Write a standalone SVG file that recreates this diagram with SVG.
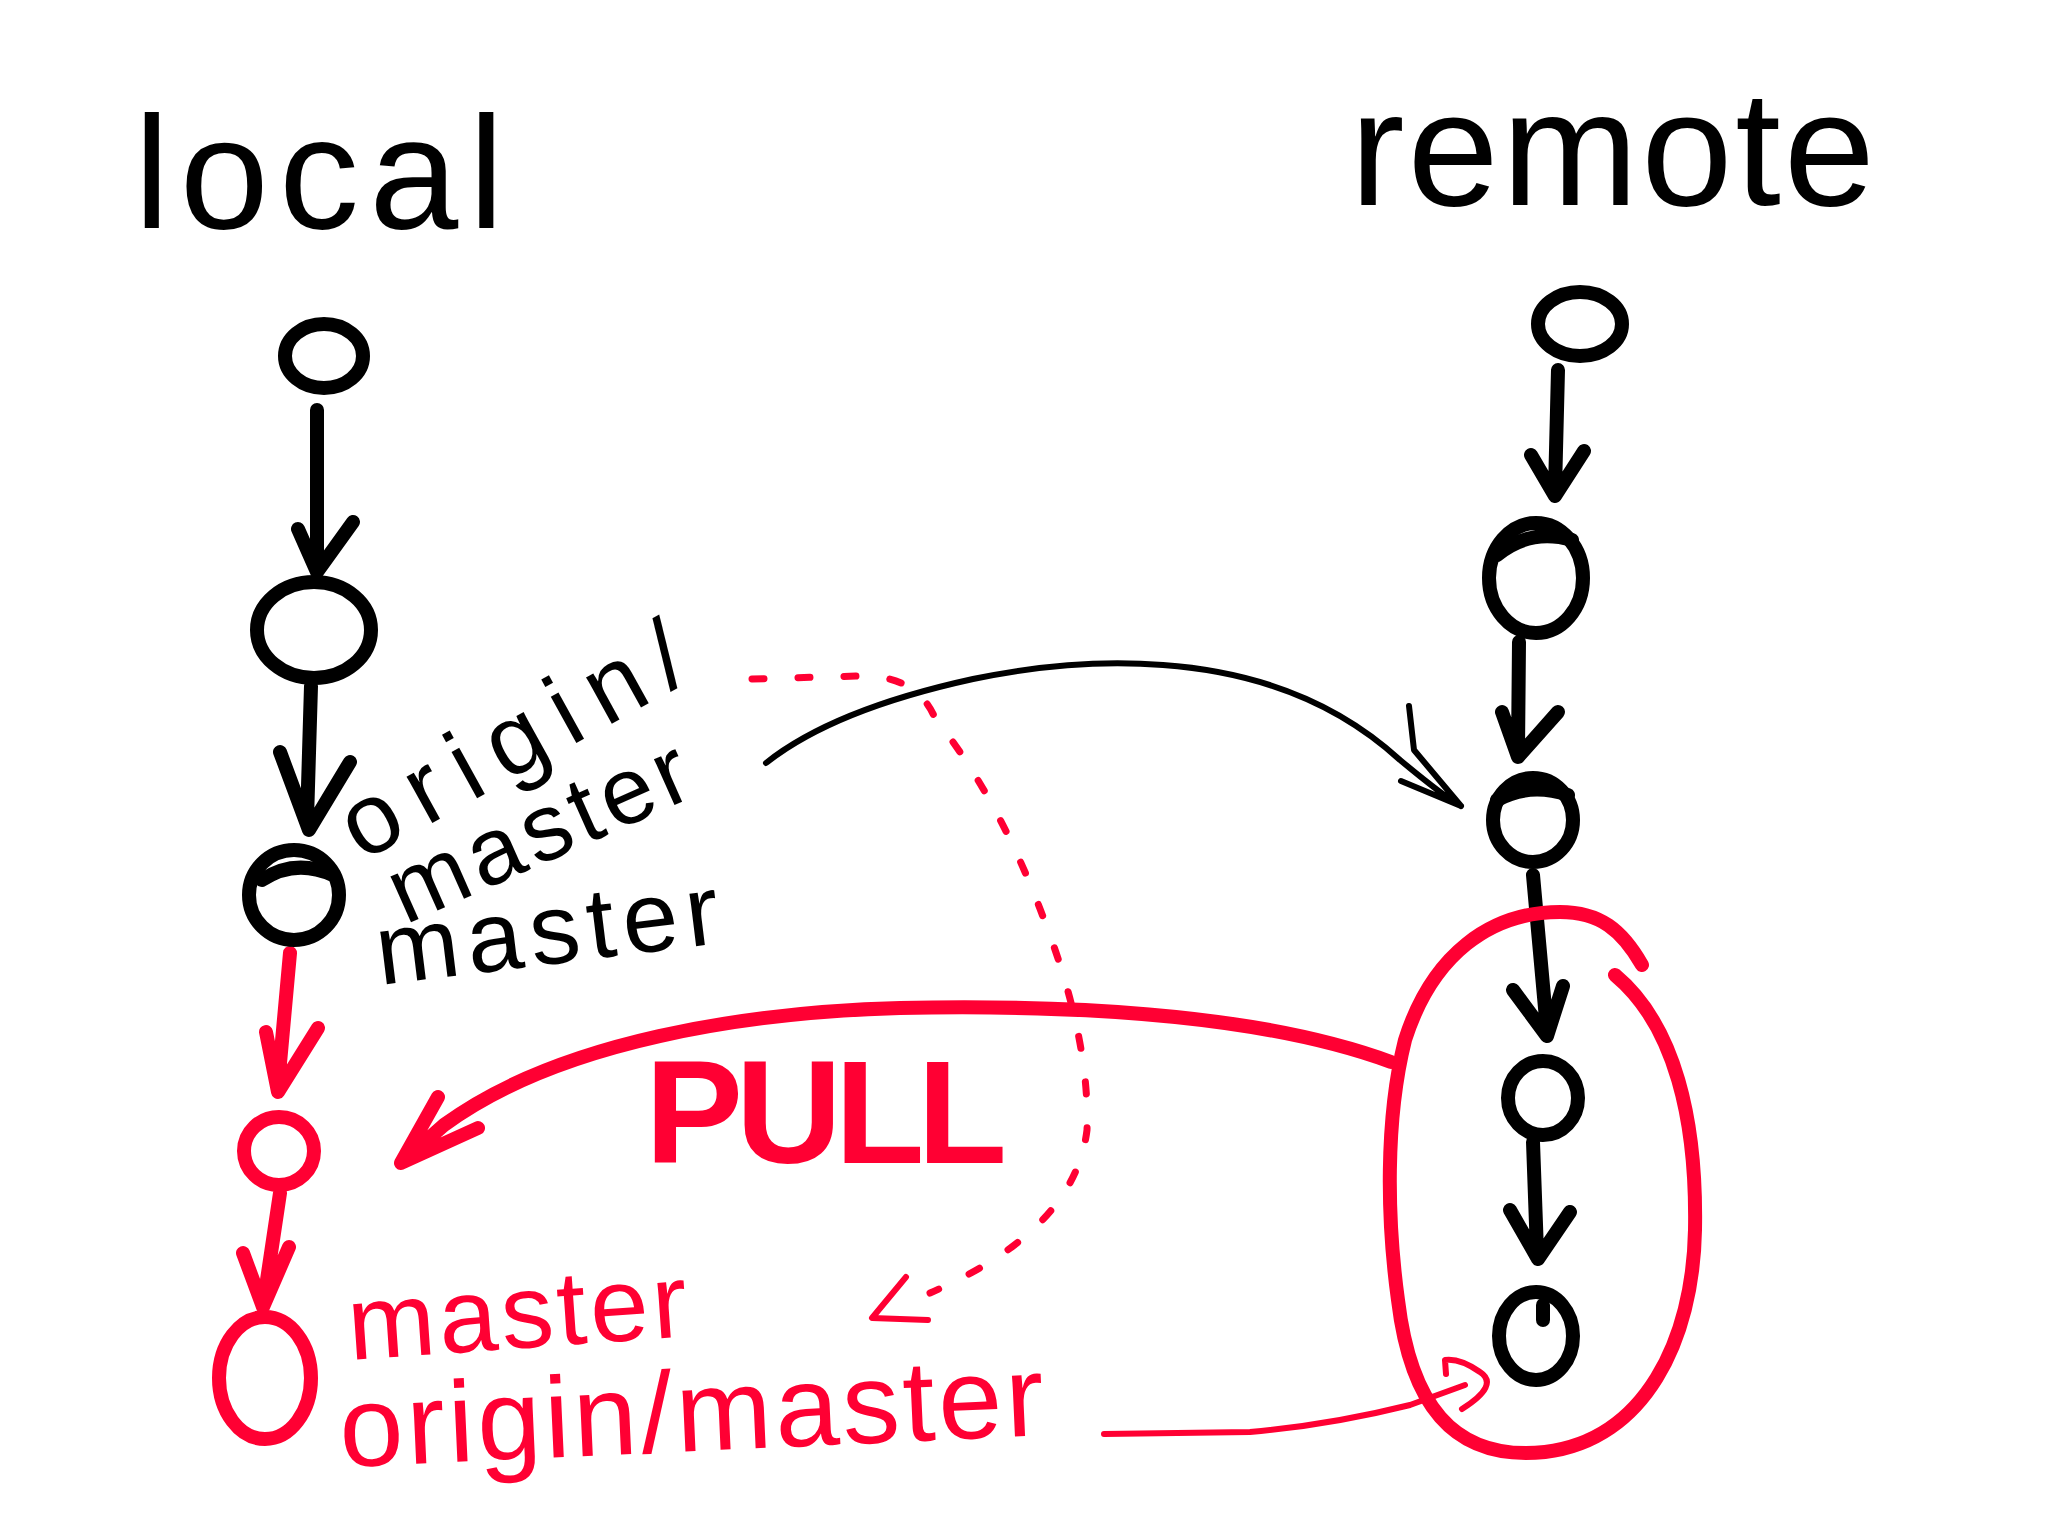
<svg xmlns="http://www.w3.org/2000/svg" width="2048" height="1536" viewBox="0 0 2048 1536">
<style>
.k{fill:none;stroke:#000;stroke-width:14;stroke-linecap:round;stroke-linejoin:round}
.kt{fill:none;stroke:#000;stroke-width:6;stroke-linecap:round;stroke-linejoin:round}
.r{fill:none;stroke:#FF0033;stroke-width:14;stroke-linecap:round;stroke-linejoin:round}
.rt{fill:none;stroke:#FF0033;stroke-width:6;stroke-linecap:round;stroke-linejoin:round}
.rd{fill:none;stroke:#FF0033;stroke-width:7;stroke-linecap:round;stroke-dasharray:12 34}
text{font-family:"Liberation Sans",Arial,sans-serif}
.tk{fill:#000}
.tr{fill:#FF0033}
</style>
<rect width="2048" height="1536" fill="#fff"/>
<g id="labels">
<text class="tk" x="134" y="228" font-size="160" textLength="370" lengthAdjust="spacing">local</text>
<text class="tk" x="1350" y="205" font-size="164" textLength="525" lengthAdjust="spacing">remote</text>
<text class="tk" transform="translate(362,862) rotate(-29)" font-size="100" textLength="380" lengthAdjust="spacing">origin/</text>
<text class="tk" transform="translate(405,925) rotate(-24)" font-size="95" textLength="320" lengthAdjust="spacing">master</text>
<text class="tk" transform="translate(380,985) rotate(-7)" font-size="100" textLength="345" lengthAdjust="spacing">master</text>
<text class="tr" x="645" y="1163" font-size="147" font-weight="bold" textLength="362" lengthAdjust="spacing">PULL</text>
<text class="tr" transform="translate(350,1360) rotate(-4)" font-size="105" textLength="340" lengthAdjust="spacing">master</text>
<text class="tr" transform="translate(341,1467) rotate(-2.6)" font-size="115" textLength="705" lengthAdjust="spacing">origin/master</text>
</g>
<g id="connectors">
<path class="k" d="M317 410 L317 565 M298 529 L317 572 L353 522"/>
<path class="k" d="M311 686 L307 820 M280 752 L309 830 L350 762"/>
<path class="r" d="M290 953 L278 1085 M266 1032 L278 1092 L318 1028"/>
<path class="r" d="M280 1193 L264 1300 M243 1253 L263 1307 L289 1247"/>
<path class="k" d="M1558 370 L1555 490 M1531 455 L1555 496 L1584 451"/>
<path class="k" d="M1519 642 L1518 750 M1502 712 L1518 757 L1558 712"/>
<path class="k" d="M1533 875 L1547 1030 M1513 990 L1547 1036 L1563 986"/>
<path class="k" d="M1533 1142 L1537 1252 M1510 1210 L1538 1259 L1570 1212"/>
<path class="kt" d="M766 763 C820 720 900 695 973 679 C1040 665 1100 660 1163 665 C1260 672 1340 705 1400 760 C1430 785 1450 800 1461 806 M1409 706 L1414 750 L1461 806 M1401 781 L1461 806"/>
<path class="r" stroke-width="12" d="M1391 1062 C1250 1010 1050 1005 900 1008 C750 1012 560 1040 444 1125 L401 1163 M438 1097 L401 1163 L478 1128"/>
<path class="rd" d="M752 679 L858 676 Q916 674 935 718 Q1000 800 1045 922 Q1090 1040 1087 1130 Q1075 1230 930 1293"/>
<path class="rt" d="M906 1277 L872 1318 L928 1320"/>
<path class="rt" d="M1104 1434 L1250 1432 Q1330 1425 1410 1405 L1465 1385 M1462 1409 Q1500 1385 1480 1372 Q1460 1358 1445 1360 L1446 1374"/>
</g>
<g id="local-1"><ellipse class="k" cx="324" cy="356" rx="39" ry="32"/></g>
<g id="local-2"><ellipse class="k" cx="314" cy="630" rx="57" ry="48"/></g>
<g id="local-3"><ellipse class="k" cx="294" cy="895" rx="45" ry="45"/><path class="k" stroke-width="9" d="M262 880 Q295 858 333 875"/></g>
<g id="local-4"><ellipse class="r" cx="279" cy="1151" rx="35" ry="34"/></g>
<g id="local-5"><ellipse class="r" cx="265" cy="1378" rx="46" ry="61"/></g>
<g id="remote-1"><ellipse class="k" cx="1580" cy="324" rx="42" ry="32"/></g>
<g id="remote-2"><ellipse class="k" cx="1536" cy="578" rx="47" ry="55"/><path class="k" stroke-width="9" d="M1497 555 Q1530 528 1572 540"/></g>
<g id="remote-3"><ellipse class="k" cx="1533" cy="820" rx="40" ry="42"/><path class="k" stroke-width="9" d="M1497 800 Q1530 782 1568 795"/></g>
<g id="remote-4"><ellipse class="k" cx="1543" cy="1098" rx="35" ry="37"/></g>
<g id="remote-5"><ellipse class="k" cx="1536" cy="1336" rx="37" ry="44"/><path class="k" d="M1543 1305 L1543 1320"/></g>
<g id="remote-group"><path class="r" d="M1615 975 C1675 1025 1697 1120 1695 1230 C1693 1340 1645 1440 1545 1452 C1450 1462 1410 1400 1398 1300 C1387 1220 1385 1120 1405 1040 C1432 955 1490 912 1560 912 C1600 912 1622 930 1642 965"/></g>
</svg>
